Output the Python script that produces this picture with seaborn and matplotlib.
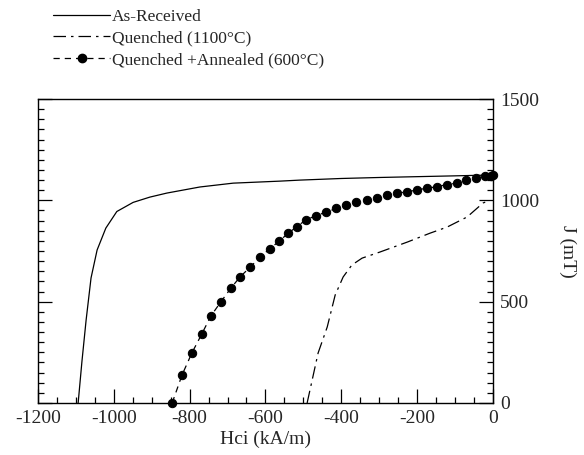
import pandas as pd
import matplotlib
matplotlib.use("Agg")
import matplotlib.pyplot as plt
import seaborn as sns
from matplotlib.ticker import MultipleLocator
from matplotlib.lines import Line2D

# As-Received
h_asrec = [-1094, -1084, -1073, -1060, -1044, -1021, -992, -949, -905, -860,
           -773, -685, -561, -509, -400, -298, -200, -100, -34, 0]
j_asrec = [0, 205, 409, 617, 755, 863, 945, 990, 1016, 1036,
           1066, 1085, 1095, 1100, 1108, 1113, 1117, 1121, 1124, 1122]

# Quenched (1100C)
h_quench = [-490, -461, -437, -416, -395, -372, -345, -298, -226, -166, -121, -68, -26, -8]
j_quench = [0, 247, 375, 533, 622, 681, 715, 745, 794, 838, 868, 918, 987, 1000]

# Quenched + Annealed (600C)
h_anneal = [-846, -820, -794, -768, -744, -718, -691, -667, -640, -614, -588, -564,
            -540, -517, -494, -466, -440, -413, -387, -360, -333, -307, -280, -254,
            -227, -201, -175, -148, -122, -95, -70, -45, -20, -5, 0]
j_anneal = [0, 138, 247, 340, 429, 498, 567, 622, 671, 720, 762, 798,
            838, 870, 903, 925, 942, 960, 975, 990, 1001, 1014, 1025, 1035,
            1042, 1051, 1060, 1067, 1078, 1085, 1100, 1110, 1118, 1122, 1125]

labels = ["As-Received", "Quenched (1100\u00b0C)", "Quenched +Annealed (600\u00b0C)"]

sns.set_style("ticks")
plt.rcParams['font.family'] = ['Liberation Serif', 'DejaVu Serif']
plt.rcParams['axes.unicode_minus'] = False

fig = plt.figure(figsize=(5.84, 4.55), dpi=100)
ax = fig.add_axes([0.065, 0.1143, 0.779, 0.668])

qdash = (10, 4, 2, 4)

sns.lineplot(x=h_asrec, y=j_asrec, ax=ax, color="black", lw=0.9, sort=False)
sns.lineplot(x=h_quench, y=j_quench, ax=ax, color="black", lw=0.9, sort=False)
ax.lines[-1].set_dashes(qdash)
sns.lineplot(x=h_anneal, y=j_anneal, ax=ax, color="black", lw=0.9, sort=False,
             marker="o", markersize=6, markeredgecolor="black")
ax.lines[-1].set_dashes((5, 4))
for ln in ax.lines:
    ln.set_clip_on(False)

ax.set_xlim(-1200, 0)
ax.set_ylim(0, 1500)
ax.xaxis.set_major_locator(MultipleLocator(200))
ax.xaxis.set_minor_locator(MultipleLocator(50))
ax.yaxis.set_major_locator(MultipleLocator(500))
ax.yaxis.set_minor_locator(MultipleLocator(50))

ax.yaxis.tick_right()
ax.yaxis.set_label_position("right")
ax.tick_params(axis="both", which="both", direction="in", color="black", width=0.9)
ax.tick_params(axis="both", which="major", length=10, labelsize=14, pad=5)
ax.tick_params(axis="both", which="minor", length=4)
ax.tick_params(axis="y", which="both", left=True, right=True, labelleft=False, labelright=True)
ax.tick_params(axis="x", which="both", top=False, bottom=True)
for s in ax.spines.values():
    s.set_visible(True)
    s.set_color("black")
    s.set_linewidth(1.0)

ax.set_xlabel("Hci (kA/m)", fontsize=14, labelpad=3)
ax.set_ylabel("J (mT)", fontsize=14, rotation=270, labelpad=27)

handles = [
    Line2D([], [], color="black", lw=0.9),
    Line2D([], [], color="black", lw=0.9, dashes=qdash),
    Line2D([], [], color="black", lw=0.9, dashes=(5, 4), marker="o", markersize=6),
]
fig.legend(handles, labels, loc="upper left", bbox_to_anchor=(0.073, 1.003),
           frameon=False, fontsize=12.5, handlelength=3.3, handletextpad=0.1,
           labelspacing=0.3, borderaxespad=0.2)

fig.savefig("out.png", dpi=100)
